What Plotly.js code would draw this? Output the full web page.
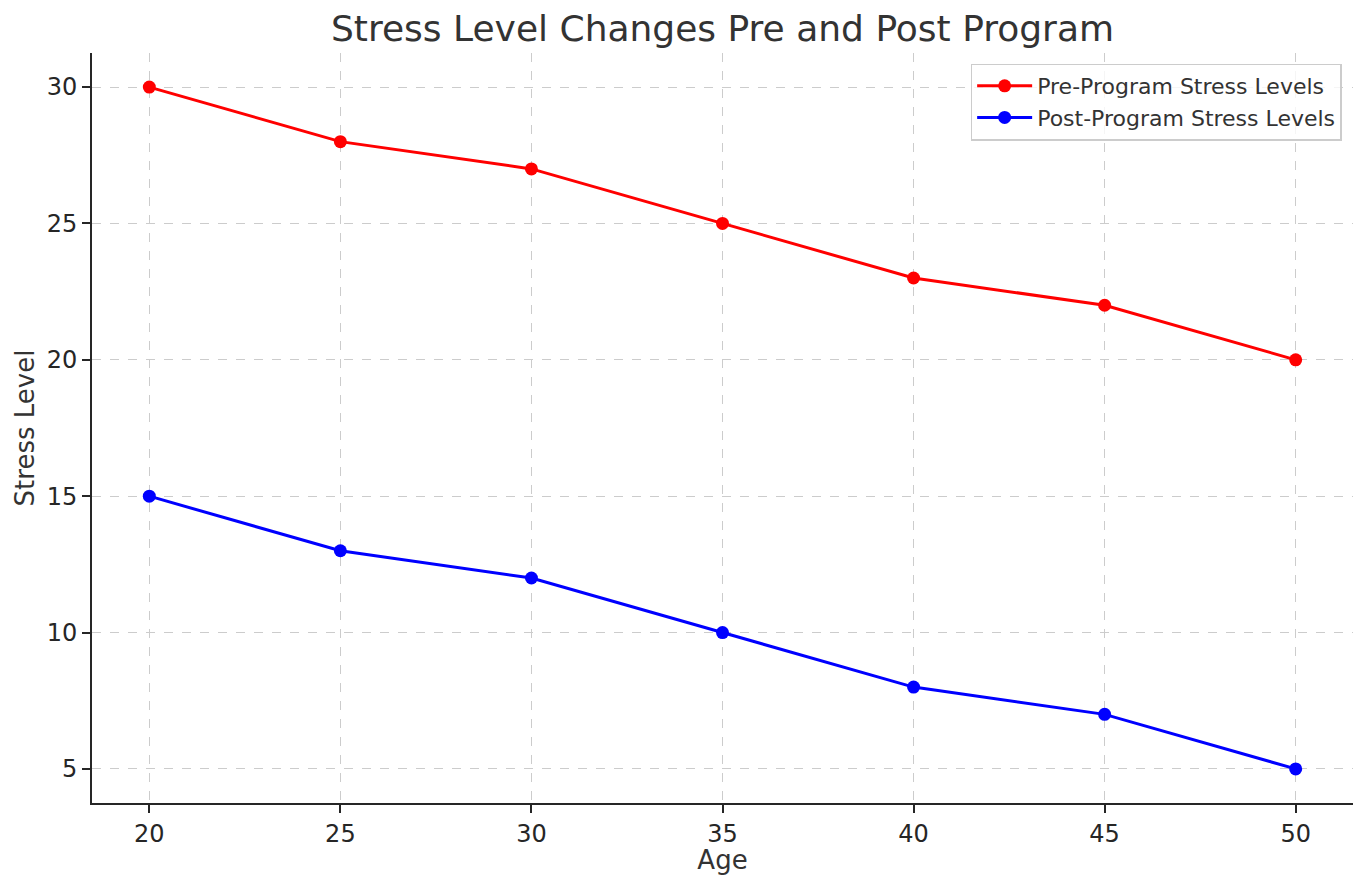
<!DOCTYPE html>
<html>
<head>
<meta charset="utf-8">
<script src="https://cdn.plot.ly/plotly-3.0.1.min.js"></script>
<style>html,body{margin:0;padding:0;background:#fff;}#chart{width:1355px;height:875px;}</style>
</head>
<body>
<div id="chart"></div>
<script>
const ages = [20, 25, 30, 35, 40, 45, 50];
const preStress = [30, 28, 27, 25, 23, 22, 20];
const postStress = [15, 13, 12, 10, 8, 7, 5];
const xTicks = [20, 25, 30, 35, 40, 45, 50];
const yTicks = [5, 10, 15, 20, 25, 30];

const font = "DejaVu Sans, Verdana, sans-serif";

const traces = [
  {x: ages, y: preStress, name: "Pre-Program Stress Levels", mode: "lines+markers",
   line: {color: "#ff0000", width: 3}, marker: {color: "#ff0000", size: 13}},
  {x: ages, y: postStress, name: "Post-Program Stress Levels", mode: "lines+markers",
   line: {color: "#0000ff", width: 3}, marker: {color: "#0000ff", size: 13}}
];

const layout = {
  width: 1355, height: 875,
  margin: {l: 92, r: 2, t: 53, b: 72},
  paper_bgcolor: "#fff", plot_bgcolor: "#fff",
  font: {family: font, color: "#262626", size: 24},
  title: {text: "Stress Level Changes Pre and Post Program", font: {family: font, size: 36, color: "#333333"},
          xref: "paper", x: 0.5, xanchor: "center", y: 0.968, yanchor: "middle"},
  xaxis: {
    range: [18.5, 51.5], tickvals: xTicks, ticktext: xTicks.map(String),
    title: {text: "Age", font: {size: 26, color: "#333333"}, standoff: 8},
    showgrid: true, gridcolor: "#cccccc", griddash: "dash", gridwidth: 1,
    showline: true, linecolor: "#262626", linewidth: 2,
    ticks: "outside", ticklen: 8, tickwidth: 2, tickcolor: "#262626",
    zeroline: false, tickfont: {size: 24, color: "#262626"}
  },
  yaxis: {
    range: [3.75, 31.25], tickvals: yTicks, ticktext: yTicks.map(String),
    title: {text: "Stress Level", font: {size: 26, color: "#333333"}, standoff: 5},
    showgrid: true, gridcolor: "#cccccc", griddash: "dash", gridwidth: 1,
    showline: true, linecolor: "#262626", linewidth: 2,
    ticks: "outside", ticklen: 8, tickwidth: 2, tickcolor: "#262626",
    zeroline: false, tickfont: {size: 24, color: "#262626"}
  },
  legend: {
    x: 0.991, xanchor: "right", y: 0.986, yanchor: "top",
    bgcolor: "rgba(255,255,255,0.8)", bordercolor: "#cccccc", borderwidth: 1.5,
    font: {size: 22, color: "#333333", family: font}, tracegroupgap: 2, itemwidth: 55
  },
  showlegend: true
};

Plotly.newPlot("chart", traces, layout, {displayModeBar: false, staticPlot: true});
</script>
</body>
</html>
